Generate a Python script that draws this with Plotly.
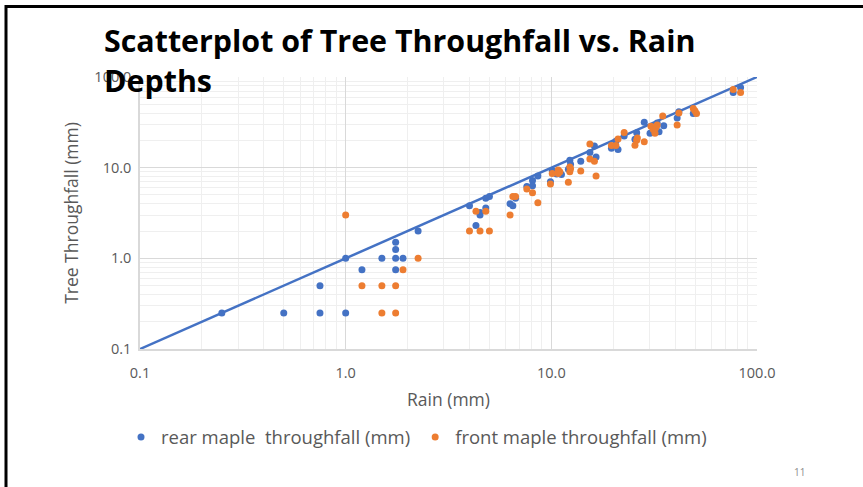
import plotly.graph_objects as go

# ---- data ----
rear_x = [0.25, 0.5, 0.75, 0.75, 1.0, 1.0, 1.2, 1.5, 1.75, 1.75, 1.75, 1.75, 1.9, 2.25,
          4.0, 4.3, 4.5, 4.5, 4.8, 4.8, 5.0, 6.3, 6.5, 6.7, 7.6, 8.1, 8.1, 8.6, 9.9, 10.1,
          10.6, 11.2, 12.1, 12.3, 12.4, 13.9, 15.4, 16.2, 16.5, 19.6, 20.6, 21.1, 22.6,
          25.5, 26.0, 28.3, 30.2, 31.9, 32.7, 33.4, 35.2, 40.9, 41.7, 49.0, 50.0, 76.6, 83.2]
rear_y = [0.25, 0.25, 0.25, 0.5, 0.25, 1.0, 0.75, 1.0, 1.5, 1.25, 1.0, 0.75, 1.0, 2.0,
          3.8, 2.3, 3.2, 3.0, 4.6, 3.6, 4.8, 4.0, 3.8, 4.6, 6.2, 7.2, 6.3, 8.1, 7.0, 9.3,
          8.5, 8.4, 9.6, 12.1, 10.9, 11.8, 14.7, 17.3, 13.1, 16.4, 19.5, 15.9, 22.3,
          20.6, 24.3, 31.6, 23.9, 25.5, 31.0, 24.9, 29.0, 35.2, 41.4, 39.7, 40.5, 67.6, 76.8]

front_x = [1.0, 1.2, 1.5, 1.5, 1.75, 1.75, 1.9, 2.25, 4.0, 4.3, 4.5, 4.8, 5.0, 6.3, 6.5,
           6.7, 7.6, 8.1, 8.6, 9.9, 10.1, 10.8, 10.8, 11.0, 12.1, 12.3, 12.3, 12.4, 13.9,
           15.4, 15.4, 16.2, 16.5, 19.6, 20.6, 21.1, 22.6, 25.5, 26.0, 26.2, 28.3, 30.5,
           31.3, 31.9, 32.2, 32.7, 34.8, 40.9, 41.7, 49.0, 49.9, 50.8, 76.6, 83.2]
front_y = [3.0, 0.5, 0.5, 0.25, 0.5, 0.25, 0.75, 1.0, 2.0, 3.3, 2.0, 3.3, 2.0, 3.0, 4.8,
           4.8, 5.8, 5.3, 4.1, 6.6, 8.6, 9.4, 8.6, 9.0, 6.9, 10.2, 9.0, 9.7, 9.2,
           18.2, 12.5, 11.8, 8.1, 17.6, 17.6, 20.7, 24.5, 17.7, 20.0, 21.2, 19.3, 28.7,
           26.4, 23.9, 27.5, 29.5, 37.1, 29.5, 40.0, 45.0, 42.4, 39.7, 73.0, 67.6]

line_x = [0.1, 100]
line_y = [0.1, 100]

tick_vals = [0.1, 1, 10, 100]
tick_text = ["0.1", "1.0", "10.0", "100.0"]
minor_vals = [m * d for d in (0.1, 1, 10) for m in range(2, 10)]

BLUE = "#4472C4"
ORANGE = "#ED7D31"
GRAY_TXT = "#595959"
FONT = "Open Sans"

fig = go.Figure()
fig.add_trace(go.Scatter(x=line_x, y=line_y, mode="lines",
                         line=dict(color=BLUE, width=2.5), showlegend=False, hoverinfo="skip"))
fig.add_trace(go.Scatter(x=rear_x, y=rear_y, mode="markers", name="rear maple  throughfall (mm)",
                         marker=dict(color=BLUE, size=7)))
fig.add_trace(go.Scatter(x=front_x, y=front_y, mode="markers", name="front maple throughfall (mm)",
                         marker=dict(color=ORANGE, size=7)))

axis_common = dict(
    type="log", range=[-1, 2], tickvals=tick_vals, ticktext=tick_text,
    showgrid=True, gridcolor="#D9D9D9", gridwidth=1,
    minor=dict(tickvals=minor_vals, showgrid=True, gridcolor="#EFEFEF", ticks=""),
    showline=True, linecolor="#D9D9D9", linewidth=1.5,
    ticks="", zeroline=False,
    tickfont=dict(family=FONT, size=14.5, color=GRAY_TXT),
)

fig.update_layout(
    width=863, height=487,
    margin=dict(l=140, r=106, t=77, b=138),
    paper_bgcolor="white", plot_bgcolor="white",
    xaxis=dict(**axis_common, ticklabelstandoff=10,
               title=dict(text="Rain (mm)", font=dict(family=FONT, size=17.5, color=GRAY_TXT), standoff=13)),
    yaxis=dict(**axis_common, ticklabelstandoff=4,
               title=dict(text="Tree Throughfall (mm)", font=dict(family=FONT, size=17.5, color=GRAY_TXT), standoff=11)),
    legend=dict(orientation="h", x=0.5 - 32 / 617, xanchor="center", y=-0.325, yanchor="middle",
                font=dict(family=FONT, size=18.5, color=GRAY_TXT), itemwidth=30,
                bgcolor="rgba(0,0,0,0)"),
    showlegend=True,
)

fig.add_annotation(text="<b>Scatterplot of Tree Throughfall vs. Rain<br>Depths</b>",
                   xref="paper", yref="paper", x=(102 - 140) / 617, y=(349 - 18) / 272,
                   xanchor="left", yanchor="top", align="left", showarrow=False,
                   font=dict(family="Open Sans", size=30.4, color="black"))

fig.add_annotation(text="11", xref="paper", yref="paper", x=(800 - 140) / 617, y=(349 - 472) / 272,
                   xanchor="center", yanchor="middle", showarrow=False,
                   font=dict(family=FONT, size=10, color="#8C8C8C"))

# slide frame (top and left black border)
fig.add_shape(type="line", xref="paper", yref="paper", x0=(6 - 140) / 617, x1=(863 - 140) / 617,
              y0=(349 - 6.5) / 272, y1=(349 - 6.5) / 272, line=dict(color="black", width=3))
fig.add_shape(type="line", xref="paper", yref="paper", x0=(6 - 140) / 617, x1=(6 - 140) / 617,
              y0=(349 - 5) / 272, y1=(349 - 487) / 272, line=dict(color="black", width=3))

fig.write_html("out.html")
